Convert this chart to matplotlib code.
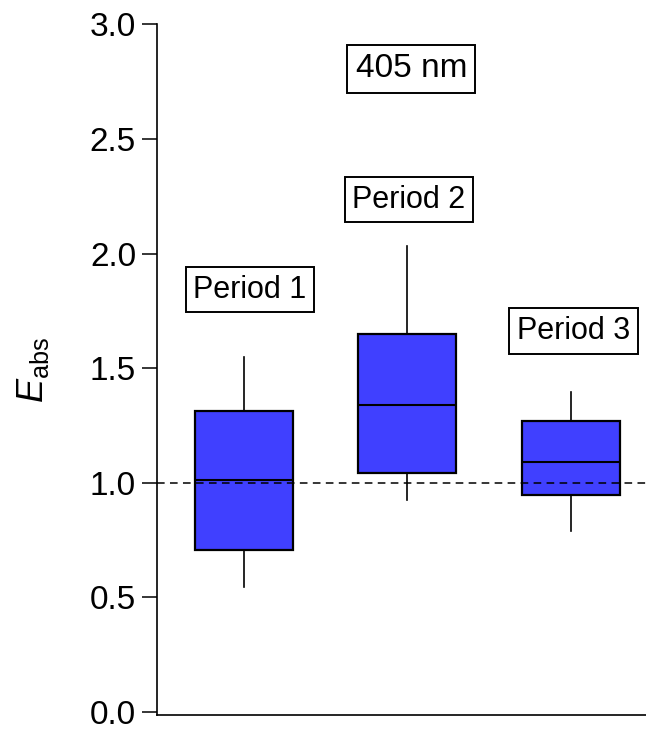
import matplotlib
matplotlib.use("Agg")
import matplotlib.pyplot as plt

plt.rcParams['font.family'] = ['Liberation Sans', 'DejaVu Sans']
plt.rcParams['mathtext.fontset'] = 'custom'
plt.rcParams['mathtext.rm'] = 'Liberation Sans'
plt.rcParams['mathtext.it'] = 'Liberation Sans:italic'

# box statistics per period
periods = ["Period 1", "Period 2", "Period 3"]
whislo = [0.546, 0.923, 0.788]
q1 = [0.707, 1.042, 0.948]
med = [1.013, 1.339, 1.089]
q3 = [1.314, 1.650, 1.270]
whishi = [1.548, 2.035, 1.398]

# label anchor points (data coords)
label_x = [1.036, 2.010, 3.019]
label_y = [1.842, 2.235, 1.662]

fig = plt.figure(figsize=(6.46, 7.29), dpi=100)
ax = fig.add_axes([0.243, 0.0192, 0.757, 0.9475])

stats = []
for i, name in enumerate(periods):
    stats.append(dict(label=name, whislo=whislo[i], q1=q1[i], med=med[i],
                      q3=q3[i], whishi=whishi[i], fliers=[]))

ax.bxp(stats, positions=[1, 2, 3], widths=0.6, patch_artist=True,
       showcaps=False, showfliers=False,
       boxprops=dict(facecolor='#4040FF', edgecolor='black', linewidth=1.6),
       medianprops=dict(color='black', linewidth=1.5),
       whiskerprops=dict(color='black', linewidth=1.2))

ax.axhline(1.0, color='black', linestyle=(0, (5, 3.5)), linewidth=1.1, zorder=5)

box = dict(boxstyle='square,pad=0.25', facecolor='white', edgecolor='black', linewidth=1.4)
for x, y, name in zip(label_x, label_y, periods):
    ax.text(x, y, name, ha='center', va='center', fontsize=22, bbox=box)
ax.text(2.025, 2.805, "405 nm", ha='center', va='center', fontsize=24, bbox=box)

ax.set_xlim(0.467, 3.462)
ax.set_ylim(-0.013, 3.0)
ax.set_yticks([0.0, 0.5, 1.0, 1.5, 2.0, 2.5, 3.0])
ax.set_yticklabels(["0.0", "0.5", "1.0", "1.5", "2.0", "2.5", "3.0"])
ax.set_xticks([])
ax.tick_params(axis='y', direction='out', length=10.8, width=1.1, pad=4.3, labelsize=24)
ax.spines['top'].set_visible(False)
ax.spines['right'].set_visible(False)
ax.spines['left'].set_linewidth(1.2)
ax.spines['bottom'].set_linewidth(1.2)
ax.set_ylabel(r'$E_{\mathrm{abs}}$', fontsize=26, labelpad=28)

fig.savefig("out.png", dpi=100)
